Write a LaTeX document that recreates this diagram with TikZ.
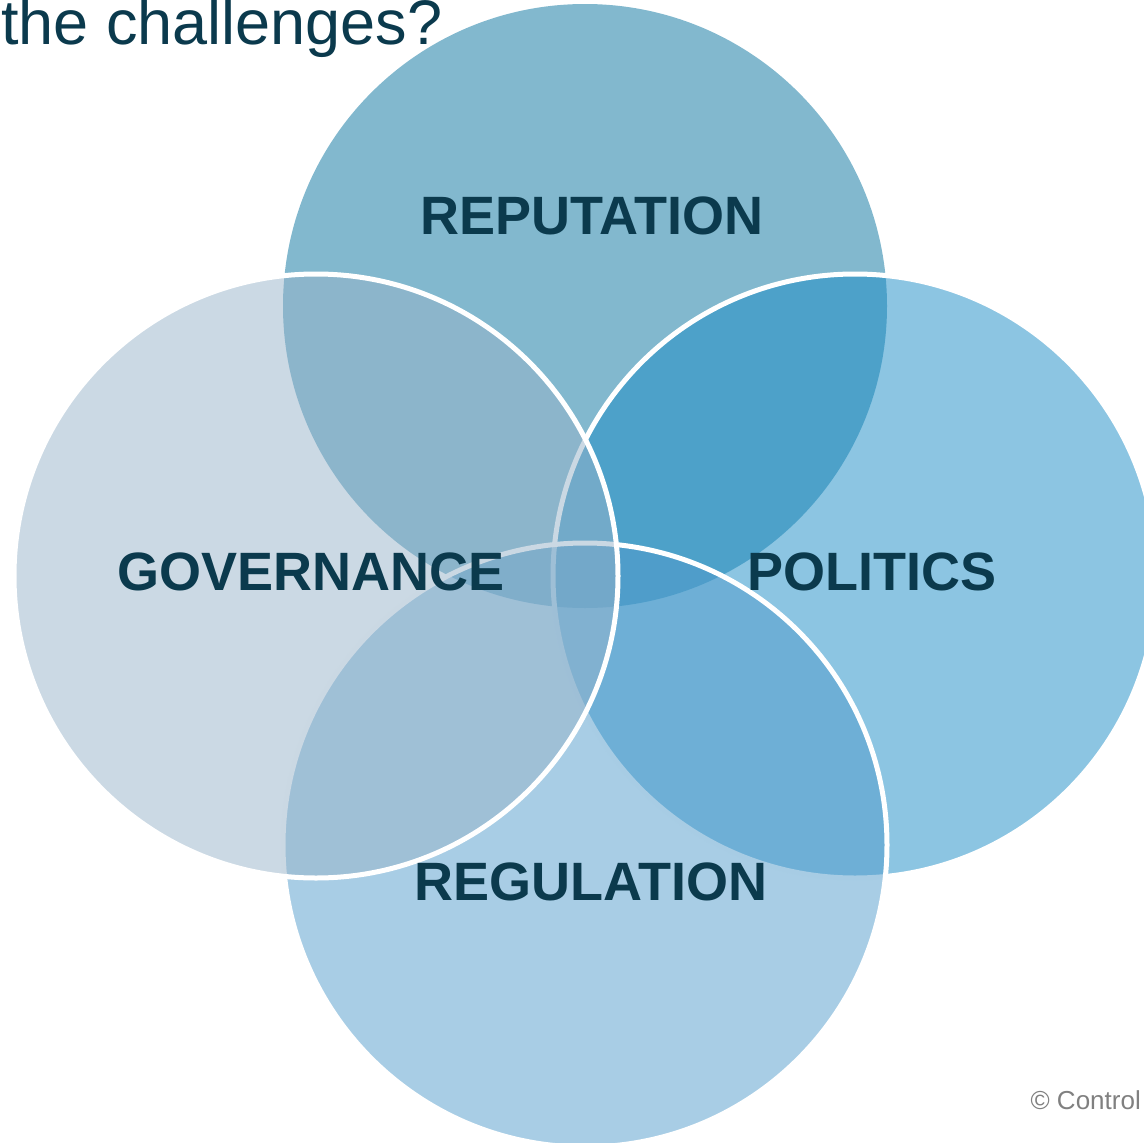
\documentclass[tikz,border=0pt]{standalone}
\usepackage{fontspec}
\setmainfont{Liberation Sans}
\definecolor{ink}{RGB}{11,58,77}
\definecolor{topblue}{RGB}{130,184,206}
\definecolor{rightblue}{RGB}{25,139,197}
\definecolor{bottomblue}{RGB}{81,155,203}
\definecolor{leftgrey}{RGB}{151,179,201}
\definecolor{notegrey}{RGB}{128,128,128}
\tikzset{
  petal/.style={circle, minimum size=604pt, inner sep=0pt, outer sep=0pt},
  seethrough/.style={petal, fill=#1, fill opacity=0.5, draw=white, draw opacity=1, line width=5pt},
  theme/.style={text=ink, font=\bfseries\fontsize{54}{54}\selectfont, inner sep=0pt, anchor=base},
}
\begin{document}
\begin{tikzpicture}[x=1pt,y=-1pt]
  \useasboundingbox (0,0) rectangle (1144,1143);
  \clip (0,0) rectangle (1144,1143);
  % the four overlapping circles, back to front
  \node[petal, fill=topblue] (reputation) at (585,306) {};
  \node[seethrough=rightblue] (politics) at (855,576) {};
  \node[seethrough=bottomblue] (regulation) at (585,845) {};
  \node[seethrough=leftgrey] (governance) at (316,576) {};
  % circle labels
  \node[theme] (lrep) at (592,234) {REPUTATION};
  \node[theme] (lgov) at (311,590) {GOVERNANCE};
  \node[theme] (lpol) at (872,590) {POLITICS};
  \node[theme] (lreg) at (591,900) {REGULATION};
  % heading and footnote
  \node[text=ink, font=\fontsize{63}{63}\selectfont, inner sep=0pt, anchor=base west] (heading) at (1,45) {the challenges?};
  \node[text=notegrey, font=\fontsize{26}{26}\selectfont, inner sep=0pt, anchor=base east] (note) at (1141,1109) {© Control};
\end{tikzpicture}
\end{document}
